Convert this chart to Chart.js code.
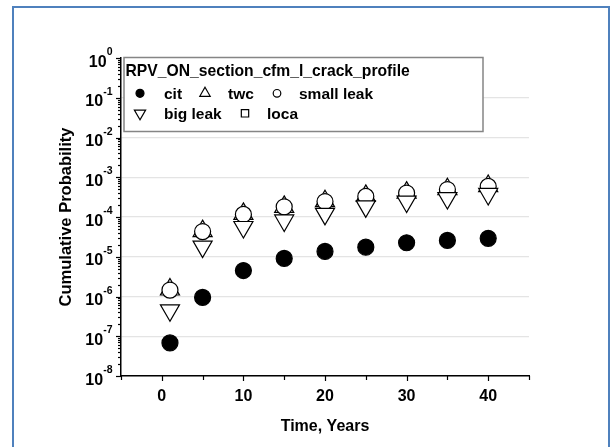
<!DOCTYPE html>
<html>
<head>
<meta charset="utf-8">
<script src="https://cdn.jsdelivr.net/npm/chart.js@4/dist/chart.umd.min.js"></script>
<style>
html,body{margin:0;padding:0;background:#fff;}
canvas{display:block;}
</style>
</head>
<body>
<canvas id="c" width="615" height="447"></canvas>
<script>
// ---- data ----
const years = [1, 5, 10, 15, 20, 25, 30, 35, 40];
const cit = [6.8e-8, 9.5e-7, 4.5e-6, 9.1e-6, 1.36e-5, 1.74e-5, 2.25e-5, 2.57e-5, 2.9e-5];
const twc = [1.5e-6, 4.4e-5, 1.2e-4, 1.8e-4, 2.5e-4, 3.4e-4, 4.1e-4, 5.0e-4, 6.0e-4];
const smallLeak = [1.45e-6, 4.3e-5, 1.16e-4, 1.8e-4, 2.45e-4, 3.3e-4, 4.0e-4, 4.9e-4, 5.9e-4];
const bigLeak = [4.5e-7, 1.8e-5, 5.6e-5, 8.2e-5, 1.2e-4, 1.85e-4, 2.45e-4, 3.0e-4, 3.8e-4];
const loca = [1.4e-6, 4.2e-5, 1.15e-4, 1.75e-4, 2.4e-4, 3.3e-4, 4.0e-4, 4.8e-4, 5.8e-4];

const xTickLabels = [0, 10, 20, 30, 40];
const xMinorTicks = [-5, 5, 15, 25, 35, 45];
const yExponents = [0, -1, -2, -3, -4, -5, -6, -7, -8];
const seriesLabels = ['cit', 'twc', 'small leak', 'big leak', 'loca'];
const legendTitle = 'RPV_ON_section_cfm_l_crack_profile';
const xTitle = 'Time, Years';
const yTitle = 'Cumulative Probability';

const FONT = '"Liberation Sans", Arial, Helvetica, sans-serif';
const toPts = arr => years.map((x, i) => ({ x: x, y: arr[i] }));

const seriesStyle = [
  { style: 'circle', r: 8, fill: '#000', rot: 0, order: 0, lr: 4 },
  { style: 'triangle', r: 11, fill: '#fff', rot: 0, order: 3, lr: 6 },
  { style: 'circle', r: 8, fill: '#fff', rot: 0, order: 2, lr: 3.8 },
  { style: 'triangle', r: 11, fill: '#fff', rot: 180, order: 1, lr: 6.5 },
  { style: 'rect', r: 7, fill: '#fff', rot: 0, order: 4, lr: 5.2 }
];
const seriesData = [cit, twc, smallLeak, bigLeak, loca];

function drawMarker(ctx, st, r, x, y) {
  ctx.save();
  ctx.fillStyle = st.fill;
  ctx.strokeStyle = '#000';
  ctx.lineWidth = 1.2;
  Chart.helpers.drawPoint(ctx, { pointStyle: st.style, radius: r, rotation: st.rot, borderWidth: 1.2 }, x, y);
  ctx.restore();
}

const customPlugin = {
  id: 'custom',
  afterDraw(chart) {
    const ctx = chart.ctx;
    const xs = chart.scales.x, ys = chart.scales.y;
    const L = chart.chartArea.left, B = chart.chartArea.bottom;
    ctx.save();
    // outer blue frame
    ctx.strokeStyle = '#4f81bd';
    ctx.lineWidth = 2;
    ctx.strokeRect(13, 7, 596, 470);

    ctx.strokeStyle = '#000';
    ctx.fillStyle = '#000';
    ctx.lineWidth = 1.2;
    // x ticks
    xTickLabels.forEach(v => {
      const px = Math.round(xs.getPixelForValue(v)) + 0.5;
      ctx.beginPath(); ctx.moveTo(px, B); ctx.lineTo(px, B + 5); ctx.stroke();
    });
    xMinorTicks.forEach(v => {
      const px = Math.round(xs.getPixelForValue(v)) + 0.5;
      ctx.beginPath(); ctx.moveTo(px, B); ctx.lineTo(px, B + 4); ctx.stroke();
    });
    ctx.font = 'bold 16px ' + FONT;
    ctx.textAlign = 'center';
    ctx.textBaseline = 'alphabetic';
    xTickLabels.forEach(v => {
      ctx.fillText(String(v), xs.getPixelForValue(v), 401);
    });
    // y ticks
    yExponents.forEach(e => {
      const py = Math.round(ys.getPixelForValue(Math.pow(10, e))) + 0.5;
      ctx.beginPath(); ctx.moveTo(L, py); ctx.lineTo(L - 5, py); ctx.stroke();
      if (e > -8) {
        for (let m = 2; m <= 9; m++) {
          const pm = Math.round(ys.getPixelForValue(m * Math.pow(10, e - 1))) + 0.5;
          ctx.beginPath(); ctx.moveTo(L, pm); ctx.lineTo(L - 3, pm); ctx.stroke();
        }
      }
    });
    // y labels 10^e
    yExponents.forEach(e => {
      const py = ys.getPixelForValue(Math.pow(10, e));
      const sup = String(e);
      ctx.font = 'bold 10.5px ' + FONT;
      const ws = ctx.measureText(sup).width;
      ctx.font = 'bold 16px ' + FONT;
      const wb = ctx.measureText('10').width;
      const right = 112.5;
      ctx.textAlign = 'left';
      ctx.fillText('10', right - ws - wb, py + 8.5);
      ctx.font = 'bold 10.5px ' + FONT;
      ctx.fillText(sup, right - ws, py - 3);
    });
    // axis titles
    ctx.font = 'bold 16px ' + FONT;
    ctx.textAlign = 'center';
    ctx.fillText(xTitle, (chart.chartArea.left + chart.chartArea.right) / 2, 431);
    ctx.save();
    ctx.translate(71, (chart.chartArea.top + chart.chartArea.bottom) / 2);
    ctx.rotate(-Math.PI / 2);
    ctx.font = 'bold 16.5px ' + FONT;
    ctx.fillText(yTitle, 0, 0);
    ctx.restore();

    // legend box
    ctx.fillStyle = '#fff';
    ctx.fillRect(124, 57.5, 359, 74);
    ctx.strokeStyle = '#858585';
    ctx.lineWidth = 1.5;
    ctx.strokeRect(124, 57.5, 359, 74);
    ctx.fillStyle = '#000';
    ctx.textAlign = 'left';
    ctx.font = 'bold 15.7px ' + FONT;
    ctx.fillText(legendTitle, 125.5, 75.5);
    const pos = [
      { mx: 140, tx: 164, y: 93.3 },
      { mx: 205, tx: 228, y: 93.3 },
      { mx: 277, tx: 299, y: 93.3 },
      { mx: 140, tx: 164, y: 113.3 },
      { mx: 245, tx: 267, y: 113.3 }
    ];
    seriesLabels.forEach((lab, i) => {
      const p = pos[i];
      drawMarker(ctx, seriesStyle[i], seriesStyle[i].lr, p.mx, p.y);
      ctx.fillStyle = '#000';
      ctx.font = 'bold 15.5px ' + FONT;
      ctx.textAlign = 'left';
      ctx.fillText(lab, p.tx, p.y + 5.2);
    });
    ctx.restore();
  }
};

new Chart(document.getElementById('c').getContext('2d'), {
  type: 'scatter',
  data: {
    datasets: seriesLabels.map((lab, i) => ({
      label: lab,
      data: toPts(seriesData[i]),
      pointStyle: seriesStyle[i].style,
      pointRadius: seriesStyle[i].r,
      pointHoverRadius: seriesStyle[i].r,
      pointRotation: seriesStyle[i].rot,
      backgroundColor: seriesStyle[i].fill,
      borderColor: '#000',
      borderWidth: 1.2,
      showLine: false,
      order: seriesStyle[i].order
    }))
  },
  options: {
    responsive: false,
    animation: false,
    devicePixelRatio: 1,
    layout: { padding: { left: 0, right: 86, top: 58, bottom: 0 } },
    plugins: { legend: { display: false }, tooltip: { enabled: false } },
    scales: {
      x: {
        type: 'linear', min: -5, max: 45,
        afterFit(s) { s.height = 71; },
        ticks: { display: false },
        grid: { display: true, drawOnChartArea: false, drawTicks: false },
        border: { display: true, color: '#000', width: 1.5 }
      },
      y: {
        type: 'logarithmic', min: 1e-8, max: 1,
        afterFit(s) { s.width = 121; },
        afterBuildTicks(s) { s.ticks = yExponents.map(e => ({ value: Math.pow(10, e) })); },
        ticks: { display: false },
        grid: {
          drawTicks: false,
          lineWidth: 1.2,
          color: c => (c.tick && c.tick.value >= 1) ? 'rgba(0,0,0,0)' : '#e4e4e4'
        },
        border: { display: true, color: '#000', width: 1.5 }
      }
    }
  },
  plugins: [customPlugin]
});
</script>
</body>
</html>
